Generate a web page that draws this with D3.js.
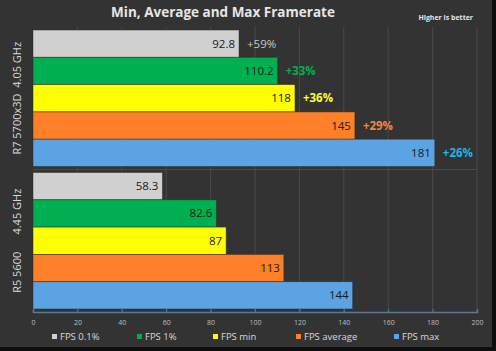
<!DOCTYPE html>
<html>
<head>
<meta charset="utf-8">
<script src="https://cdn.jsdelivr.net/npm/d3@7"></script>
<style>
  html, body { margin: 0; padding: 0; background: #000; }
  svg { display: block; font-family: "Open Sans", "Noto Sans", sans-serif; }
</style>
</head>
<body>
<div id="chart"></div>
<script>
(function(){

const width = 496;
const height = 351;
const margin = {top: 27, right: 19, bottom: 39, left: 33};

// data
const cpus = ["R7 5700x3D", "R5 5600"];
const clocks = ["4.05 GHz", "4.45 GHz"];
const series = ["FPS 0.1%", "FPS 1%", "FPS min", "FPS average", "FPS max"];
const colors = ["#d0d0d0", "#00b050", "#ffff00", "#fd7f27", "#5ba3e3"];
const gainColors = ["#c8c8c8", "#00b050", "#ffff33", "#f08a3c", "#1cb5f0"];
const r7Values = [92.8, 110.2, 118, 145, 181];
const r5Values = [58.3, 82.6, 87, 113, 144];
const gains = ["+59%", "+33%", "+36%", "+29%", "+26%"];
const xTicks = [0, 20, 40, 60, 80, 100, 120, 140, 160, 180, 200];

const groups = [r7Values, r5Values];

const svg = d3.select("#chart")
  .append("svg")
  .attr("width", width)
  .attr("height", height);

// background, with dark frame at right and bottom
svg.append("rect")
  .attr("width", width).attr("height", height)
  .attr("fill", "#0d0d0d");
svg.append("rect")
  .attr("width", width - 4).attr("height", height - 4)
  .attr("fill", "#333333");

const x = d3.scaleLinear()
  .domain([0, 200])
  .range([margin.left, width - margin.right]);

const y0 = d3.scaleBand()
  .domain(cpus)
  .range([margin.top, height - margin.bottom]);

const y1 = d3.scaleBand()
  .domain(series)
  .range([0, y0.bandwidth()])
  .paddingOuter(0.11);

// gridlines
svg.append("g")
  .selectAll("line")
  .data(xTicks.slice(1))
  .enter()
  .append("line")
  .attr("x1", d => x(d)).attr("x2", d => x(d))
  .attr("y1", margin.top).attr("y2", height - margin.bottom)
  .attr("stroke", "#4a4a4a")
  .attr("stroke-width", 1);

svg.append("line")
  .attr("x1", x(0)).attr("x2", x(200))
  .attr("y1", y0(cpus[1])).attr("y2", y0(cpus[1]))
  .attr("stroke", "#4a4a4a");

// title
svg.append("text")
  .attr("x", 223)
  .attr("y", 17)
  .attr("text-anchor", "middle")
  .attr("fill", "#e6e6e6")
  .style("font-size", "13.5px")
  .style("font-weight", "bold")
  .text("Min, Average and Max Framerate");

svg.append("text")
  .attr("x", 473)
  .attr("y", 20)
  .attr("text-anchor", "end")
  .attr("fill", "#e6e6e6")
  .style("font-size", "7px")
  .style("font-weight", "bold")
  .text("Higher is better");

// bars
groups.forEach((vals, gi) => {
  const g = svg.append("g")
    .attr("transform", `translate(0,${y0(cpus[gi])})`);

  g.selectAll("rect")
    .data(vals)
    .enter()
    .append("rect")
    .attr("x", x(0))
    .attr("y", (d, i) => y1(series[i]))
    .attr("width", d => x(d) - x(0))
    .attr("height", y1.bandwidth())
    .attr("fill", (d, i) => colors[i])
    .attr("stroke", "#2b2b2b")
    .attr("stroke-opacity", 0.6)
    .attr("stroke-width", 0.8);

  g.selectAll("text.val")
    .data(vals)
    .enter()
    .append("text")
    .attr("class", "val")
    .attr("x", d => x(d) - 4)
    .attr("y", (d, i) => y1(series[i]) + y1.bandwidth() / 2 + 4)
    .attr("text-anchor", "end")
    .attr("fill", "#1a1a1a")
    .style("font-size", "11.5px")
    .text(d => d);

  if (gi === 0) {
    g.selectAll("text.gain")
      .data(vals)
      .enter()
      .append("text")
      .attr("class", "gain")
      .attr("x", d => x(d) + 8)
      .attr("y", (d, i) => y1(series[i]) + y1.bandwidth() / 2 + 4)
      .attr("fill", (d, i) => gainColors[i])
      .style("font-size", "11.5px")
      .style("font-weight", (d, i) => i === 0 ? "normal" : "bold")
      .text((d, i) => gains[i]);
  }

  // category label
  svg.append("text")
    .attr("transform", `translate(21,${y0(cpus[gi]) + y0.bandwidth() / 2}) rotate(-90)`)
    .attr("text-anchor", "middle")
    .attr("fill", "#d9d9d9")
    .style("font-size", "11px")
    .style("white-space", "pre")
    .text(gi === 0 ? cpus[gi] + "  " + clocks[gi] : cpus[gi] + "      " + clocks[gi]);
});

// x axis
const axis = svg.append("g")
  .attr("transform", `translate(0,${height - margin.bottom})`)
  .call(d3.axisBottom(x).tickValues(xTicks).tickSize(-3).tickPadding(8));

axis.select(".domain").attr("stroke", "#5c7a94").attr("stroke-width", 1.5);
axis.selectAll(".tick line").attr("stroke", "#5c7a94");
axis.selectAll(".tick text")
  .attr("fill", "#bfbfbf")
  .style("font-size", "7px")
  .style("font-family", "Open Sans, sans-serif");

// legend
const legendX = [52, 137, 213, 296, 394];
const legend = svg.append("g")
  .attr("transform", `translate(0, 339)`);

legend.selectAll("rect")
  .data(series)
  .enter()
  .append("rect")
  .attr("x", (d, i) => legendX[i])
  .attr("y", -5)
  .attr("width", 5)
  .attr("height", 5)
  .attr("fill", (d, i) => colors[i]);

legend.selectAll("text")
  .data(series)
  .enter()
  .append("text")
  .attr("x", (d, i) => legendX[i] + 8)
  .attr("y", 0.5)
  .attr("fill", "#d9d9d9")
  .style("font-size", "9.5px")
  .text(d => d);

})();
</script>
</body>
</html>
